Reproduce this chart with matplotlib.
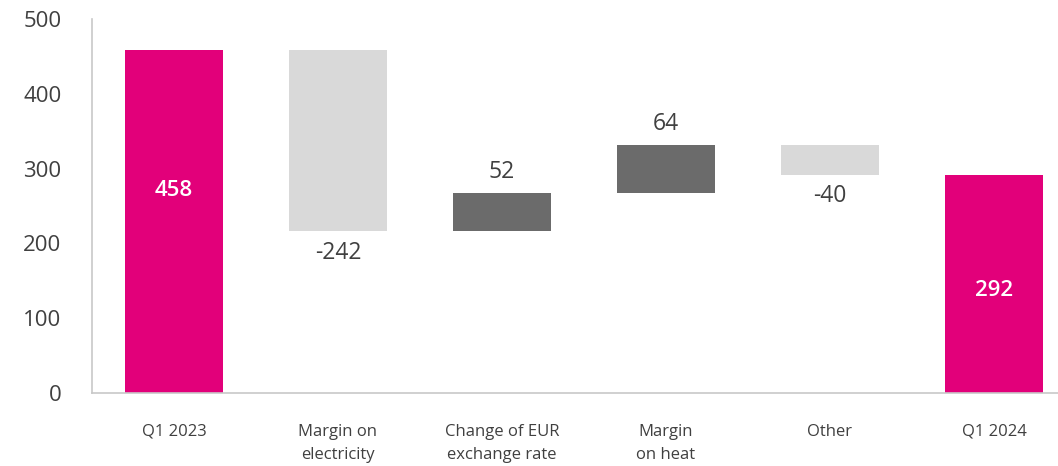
import matplotlib
matplotlib.use("Agg")
import matplotlib.pyplot as plt
import numpy as np

categories = ["Q1 2023", "Margin on\nelectricity", "Change of EUR\nexchange rate", "Margin\non heat", "Other", "Q1 2024"]
values = [458, -242, 52, 64, -40, 292]
kinds = ["total", "delta", "delta", "delta", "delta", "total"]
y_ticks = [0, 100, 200, 300, 400, 500]

MAGENTA = "#E2007A"
LIGHT = "#D9D9D9"
DARK = "#6B6B6B"
TXT = "#404040"

# vertical placement of the in-bar labels, as a fraction of the bar height
inside_frac = {0: 0.59, 5: 0.47}

plt.rcParams['font.family'] = ['Open Sans', 'DejaVu Sans']

fig = plt.figure(figsize=(10.58, 4.66), dpi=100)
ax = fig.add_axes([92/1058, (466-393)/466, (1058-92)/1058, (393-19)/466])

x = np.arange(len(categories))
bottoms, heights, colors = [], [], []
running = 0
for v, k in zip(values, kinds):
    if k == "total":
        bottoms.append(0); heights.append(v); colors.append(MAGENTA)
        running = v
    else:
        if v >= 0:
            bottoms.append(running); heights.append(v); colors.append(DARK)
        else:
            bottoms.append(running + v); heights.append(-v); colors.append(LIGHT)
        running += v

ax.bar(x, heights, bottom=bottoms, width=0.6, color=colors)

for i, (xi, v, k, b, h) in enumerate(zip(x, values, kinds, bottoms, heights)):
    if k == "total":
        ax.text(xi, b + h * inside_frac.get(i, 0.5), f"{v}", ha="center", va="center",
                color="white", fontsize=16, fontweight="semibold")
    elif v >= 0:
        ax.annotate(f"{v}", (xi, b + h), xytext=(0, 6), textcoords="offset points",
                    ha="center", va="bottom", color=TXT, fontsize=16.5)
    else:
        ax.annotate(f"{v}", (xi, b), xytext=(0, -7), textcoords="offset points",
                    ha="center", va="top", color=TXT, fontsize=16.5)

ax.set_ylim(0, 500)
ax.set_xlim(-0.5, -0.5 + 966/164)
ax.set_yticks(y_ticks)
ax.set_yticklabels([str(t) for t in y_ticks])
ax.set_xticks(x)
ax.set_xticklabels(categories, linespacing=1.6)
ax.tick_params(axis="y", length=0, pad=22, labelsize=16, labelcolor=TXT)
ax.tick_params(axis="x", length=0, pad=22, labelsize=12, labelcolor=TXT)
for s in ["top", "right"]:
    ax.spines[s].set_visible(False)
for s in ["left", "bottom"]:
    ax.spines[s].set_color("#C8C8C8")
    ax.spines[s].set_linewidth(1.2)

fig.savefig("out.png", dpi=100)
